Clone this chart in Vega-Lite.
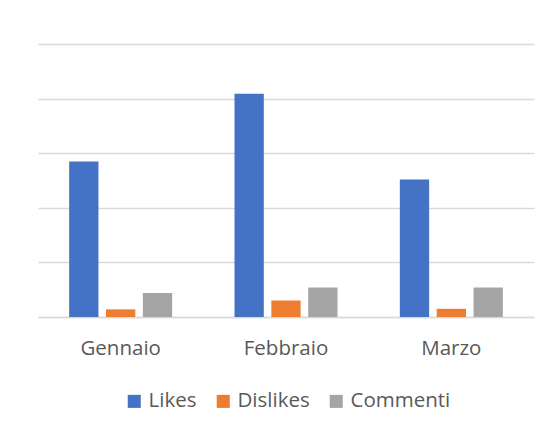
{
  "$schema": "https://vega.github.io/schema/vega-lite/v6.json",
  "width": 496,
  "height": 273,
  "autosize": {"type": "none"},
  "padding": {"left": 38, "top": 44, "right": 20, "bottom": 115},
  "background": "white",
  "data": {
    "values": [
      {"mese": "Gennaio", "serie": "Likes", "valore": 285},
      {"mese": "Gennaio", "serie": "Dislikes", "valore": 14},
      {"mese": "Gennaio", "serie": "Commenti", "valore": 44},
      {"mese": "Febbraio", "serie": "Likes", "valore": 409},
      {"mese": "Febbraio", "serie": "Dislikes", "valore": 30},
      {"mese": "Febbraio", "serie": "Commenti", "valore": 54},
      {"mese": "Marzo", "serie": "Likes", "valore": 252},
      {"mese": "Marzo", "serie": "Dislikes", "valore": 15},
      {"mese": "Marzo", "serie": "Commenti", "valore": 54}
    ]
  },
  "mark": {"type": "bar"},
  "encoding": {
    "x": {
      "field": "mese",
      "type": "nominal",
      "sort": ["Gennaio", "Febbraio", "Marzo"],
      "scale": {"paddingInner": 0.377, "paddingOuter": 0.1885},
      "axis": {
        "title": null,
        "labelAngle": 0,
        "ticks": false,
        "domain": true,
        "domainColor": "#D9D9D9",
        "domainWidth": 1.5,
        "labelFont": "Open Sans",
        "labelFontSize": 20.5,
        "labelColor": "#595959",
        "labelPadding": 21
      }
    },
    "xOffset": {
      "field": "serie",
      "type": "nominal",
      "sort": ["Likes", "Dislikes", "Commenti"],
      "scale": {"paddingInner": 0.205, "paddingOuter": 0}
    },
    "y": {
      "field": "valore",
      "type": "quantitative",
      "scale": {"domain": [0, 500], "nice": false},
      "axis": {
        "title": null,
        "labels": false,
        "ticks": false,
        "domain": false,
        "values": [0, 100, 200, 300, 400, 500],
        "grid": true,
        "gridColor": "#D9D9D9",
        "gridWidth": 1.5
      }
    },
    "color": {
      "field": "serie",
      "type": "nominal",
      "sort": ["Likes", "Dislikes", "Commenti"],
      "scale": {
        "domain": ["Likes", "Dislikes", "Commenti"],
        "range": ["#4472C4", "#ED7D31", "#A5A5A5"]
      },
      "legend": {
        "title": null,
        "orient": "none",
        "direction": "horizontal",
        "legendX": 86,
        "legendY": 347,
        "symbolType": "square",
        "symbolSize": 170,
        "symbolStrokeWidth": 0,
        "labelFont": "Open Sans",
        "labelFontSize": 20.5,
        "labelColor": "#595959",
        "labelOffset": 4,
        "columnPadding": 16,
        "padding": 0
      }
    }
  },
  "config": {
    "view": {"stroke": null}
  }
}
